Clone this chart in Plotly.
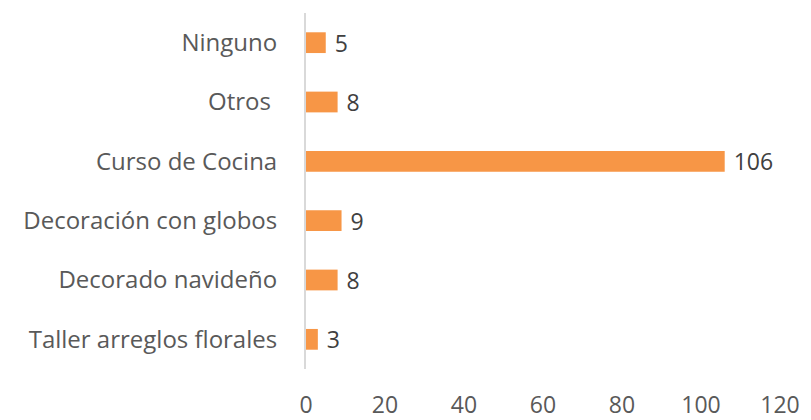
import plotly.graph_objects as go

categories = ["Taller arreglos florales", "Decorado navideño", "Decoración con globos",
              "Curso de Cocina", "Otros\u00a0", "Ninguno"]
values = [3, 8, 9, 106, 8, 5]
x_ticks = [0, 20, 40, 60, 80, 100, 120]

fig = go.Figure(go.Bar(
    x=values, y=categories, orientation="h",
    marker=dict(color="#F79646", line=dict(width=0)),
    width=0.35,
    texttemplate="\u00a0%{x}", textposition="outside",
    constraintext="none",
    textfont=dict(family="Open Sans", size=23, color="#404040"),
    cliponaxis=False,
))

# page body adds an 8px margin, so the figure is sized to fit the 811x420 window
fig.update_layout(
    width=803, height=412,
    margin=dict(l=298, r=31, t=5, b=51),
    paper_bgcolor="white", plot_bgcolor="white",
    showlegend=False,
    font=dict(family="Open Sans", size=22, color="#595959"),
    xaxis=dict(range=[0, 120], tickvals=x_ticks, showgrid=False, zeroline=False,
               showline=False, ticks="outside", ticklen=15, tickcolor="rgba(0,0,0,0)",
               tickfont=dict(size=23, color="#595959"), automargin=False),
    yaxis=dict(showgrid=False, zeroline=False, showline=True, linecolor="#D9D9D9",
               linewidth=2, ticks="outside", ticklen=22, tickcolor="rgba(0,0,0,0)",
               tickfont=dict(size=24, color="#595959"), range=[-0.5, 5.5],
               automargin=False),
)

fig.write_html("out.html")
